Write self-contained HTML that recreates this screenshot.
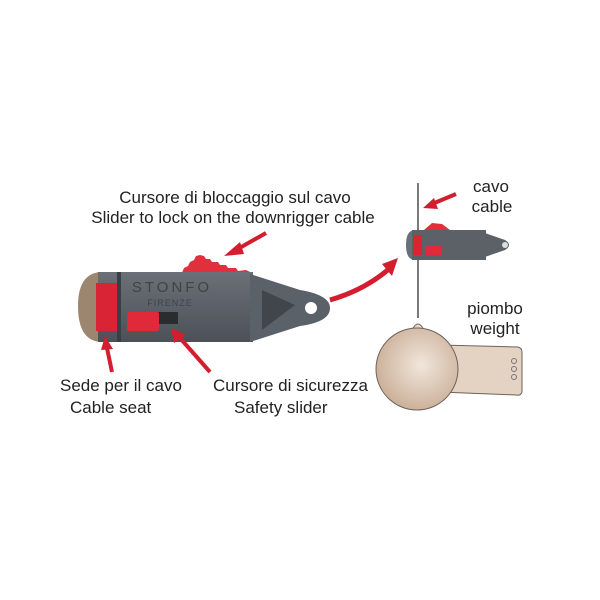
<!DOCTYPE html>
<html><head><style>
html,body{margin:0;padding:0;background:#fff;}
svg{display:block}
text{font-family:"Liberation Sans",sans-serif;fill:#222;}
</style></head><body>
<svg width="600" height="600" viewBox="0 0 600 600">
<defs>
<radialGradient id="sph" cx="0.55" cy="0.45" r="0.6">
<stop offset="0" stop-color="#f1e6dc"/><stop offset="1" stop-color="#c9ad95"/></radialGradient>
<linearGradient id="bd" x1="0" y1="0" x2="0" y2="1">
<stop offset="0" stop-color="#6b7077"/><stop offset="1" stop-color="#4c5158"/></linearGradient>
</defs>
<text x="235" y="203" font-size="17" text-anchor="middle">Cursore di bloccaggio sul cavo</text>
<text x="233" y="223" font-size="17" text-anchor="middle">Slider to lock on the downrigger cable</text>
<path d="M100 272 Q78 274 78 306 Q78 340 100 342 Z" fill="#9c8670"/>
<path d="M181 275 L184 268 L188 266 L190 262 L194 260 L196 256 L200 255 L204 256 L206 259 L210 259 L212 262 L218 262 L220 265 L226 265 L228 268 L236 268 L238 271 L246 270 L250 272 L252 275 Z" fill="#e0303d"/>
<rect x="98" y="272" width="155" height="70" fill="url(#bd)"/>
<rect x="96" y="283" width="24" height="48" fill="#d82434"/>
<rect x="117" y="272" width="4" height="70" fill="#3b3f44"/>
<path d="M250 274 L300 290 Q330 295 330 308 Q330 322 300 326 L250 342 Z" fill="#5b6168"/>
<path d="M262 290 L295 305 L262 330 Z" fill="#41464c"/>
<circle cx="311" cy="308" r="6" fill="#fff"/>
<rect x="158" y="312" width="20" height="12" fill="#2a2d30"/>
<rect x="127" y="312" width="32" height="19" rx="2" fill="#e02a3a"/>
<text x="172" y="292" font-size="15" text-anchor="middle" letter-spacing="3" style="fill:#3e4349">STONFO</text>
<text x="170" y="306" font-size="9" text-anchor="middle" letter-spacing="1" style="fill:#3e4349">FIRENZE</text>
<g stroke="#d21e2e" stroke-width="4" fill="#d21e2e">
<line x1="266" y1="233" x2="236" y2="250"/>
<line x1="112" y1="372" x2="107" y2="348"/>
<line x1="210" y1="372" x2="180" y2="338"/>
<line x1="456" y1="194" x2="432" y2="204"/>
<path d="M330 300 Q365 290 390 268" fill="none" stroke-width="5"/>
</g>
<g fill="#d21e2e">
<polygon points="224,256 240,242 244,254"/>
<polygon points="105,336 101,350 113,349"/>
<polygon points="171,328 174,343 186,335"/>
<polygon points="423,208 434,198 438,209"/>
<polygon points="398,258 382,264 392,276"/>
</g>
<text x="60" y="391" font-size="17">Sede per il cavo</text>
<text x="70" y="413" font-size="17">Cable seat</text>
<text x="213" y="391" font-size="17">Cursore di sicurezza</text>
<text x="234" y="413" font-size="17">Safety slider</text>
<line x1="418" y1="183" x2="418" y2="318" stroke="#333" stroke-width="1.3"/>
<text x="491" y="192" font-size="17" text-anchor="middle">cavo</text>
<text x="492" y="212" font-size="17" text-anchor="middle">cable</text>
<path d="M424 230 L432 223 L442 224 L450 230 Z" fill="#e0303d"/>
<path d="M414 230 Q406 231 406 245 Q406 259 414 260 Z" fill="#6a6f75"/>
<rect x="412" y="230" width="74" height="30" fill="#5c6168"/>
<path d="M482 232 L505 240 Q513 245 505 250 L482 258 Z" fill="#5c6168"/>
<circle cx="505" cy="245" r="3" fill="#ddd"/>
<rect x="413" y="235" width="9" height="20" fill="#d82434"/>
<rect x="426" y="246" width="16" height="9" fill="#e02a3a"/>
<text x="495" y="314" font-size="17" text-anchor="middle">piombo</text>
<text x="495" y="334" font-size="17" text-anchor="middle">weight</text>
<path d="M412 330 Q418 318 424 330 L430 340 L406 340 Z" fill="#e6d7c9" stroke="#7a6a5e"/>
<path d="M440 345 L518 347 Q522 348 522 352 L522 392 Q521 396 516 395 L440 392 Z" fill="#e4d3c3" stroke="#6f625a"/>
<circle cx="514" cy="361" r="2.5" fill="none" stroke="#777"/>
<circle cx="514" cy="369" r="2.5" fill="none" stroke="#777"/>
<circle cx="514" cy="377" r="2.5" fill="none" stroke="#777"/>
<circle cx="417" cy="369" r="41" fill="url(#sph)" stroke="#6f625a"/>
</svg>
</body></html>
